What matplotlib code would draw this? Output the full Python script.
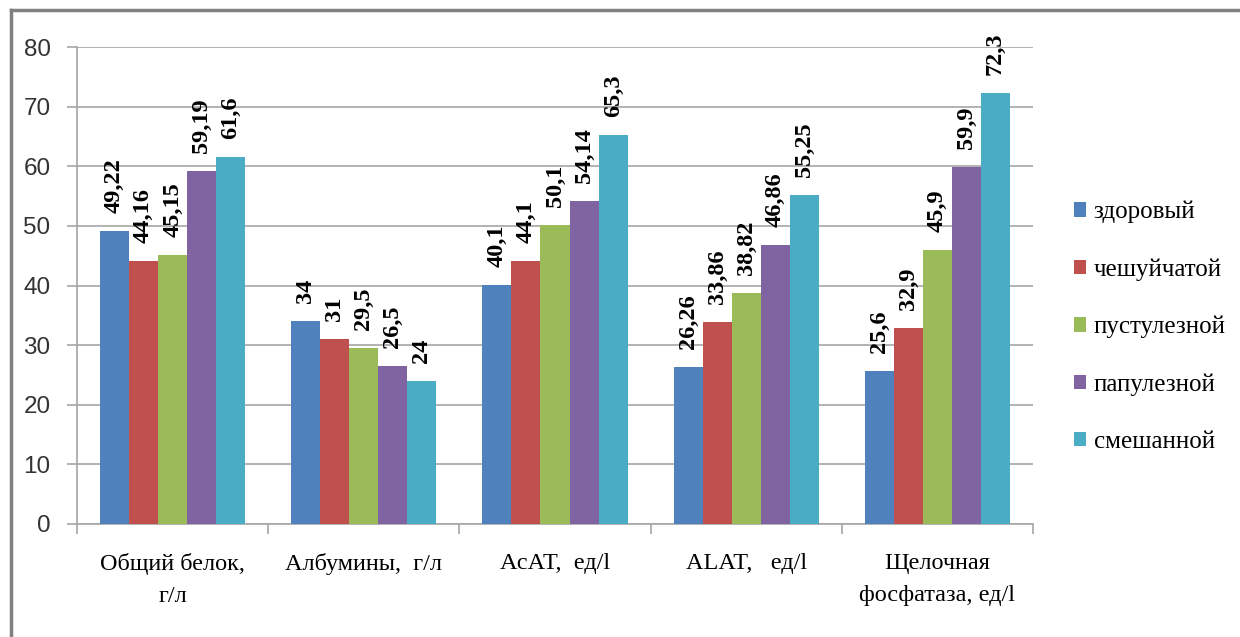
import numpy as np
import matplotlib
matplotlib.use('Agg')
import matplotlib.pyplot as plt
from matplotlib.lines import Line2D

categories = ['Общий белок,\nг/л', 'Албумины,  г/л', 'АсАТ,  ед/l', 'ALAT,   ед/l', 'Щелочная\nфосфатаза, ед/l']
series = ['здоровый', 'чешуйчатой', 'пустулезной', 'папулезной', 'смешанной']
zdorovyi = [49.22, 34, 40.1, 26.26, 25.6]
cheshuichatoi = [44.16, 31, 44.1, 33.86, 32.9]
pustuleznoi = [45.15, 29.5, 50.1, 38.82, 45.9]
papuleznoi = [59.19, 26.5, 54.14, 46.86, 59.9]
smeshannoi = [61.6, 24, 65.3, 55.25, 72.3]
values = [zdorovyi, cheshuichatoi, pustuleznoi, papuleznoi, smeshannoi]
colors = ['#4F81BD', '#C0504D', '#9BBB59', '#8064A2', '#4BACC6']

fig = plt.figure(figsize=(12.4, 6.37), dpi=100)
ax = fig.add_axes([0.0621, 0.1774, 0.771, 0.7486])

x = np.arange(len(categories))
w = 0.152
for i, (name, vals) in enumerate(zip(series, values)):
    pos = x + (i - 2) * w
    ax.bar(pos, vals, w, color=colors[i], label=name, zorder=3)
    for px, v in zip(pos, vals):
        ax.annotate(f'{v:g}'.replace('.', ','), (px, v), xytext=(0, 13),
                    textcoords='offset points', rotation=90, ha='center', va='bottom',
                    fontsize=17.5, fontweight='bold', family='Liberation Serif', zorder=4)

ax.set_xlim(-0.5, len(categories) - 0.5)
ax.set_ylim(0, 80)
ax.set_yticks(np.arange(0, 81, 10))
ax.yaxis.grid(True, color='#A6A6A6', linewidth=1.2, zorder=0)
ax.set_axisbelow(True)

ax.set_xticks(np.arange(-0.5, len(categories), 1.0))
ax.set_xticklabels([])
ax.set_xticks(x, minor=True)
ax.set_xticklabels(categories, minor=True, family='Liberation Serif', fontsize=17.5, linespacing=1.7)
ax.tick_params(axis='x', which='minor', length=0, pad=21)
ax.tick_params(axis='x', which='major', length=7, color='#A6A6A6', width=1.2)
ax.tick_params(axis='y', length=7, color='#A6A6A6', width=1.2, pad=12, labelsize=17.5)
for lab in ax.get_yticklabels():
    lab.set_family('Liberation Sans')
    lab.set_color('#333333')

for s in ['top', 'right']:
    ax.spines[s].set_visible(False)
for s in ['left', 'bottom']:
    ax.spines[s].set_color('#A6A6A6')
    ax.spines[s].set_linewidth(1.2)

ax.legend(loc='center left', bbox_to_anchor=(0.866, 0.487), bbox_transform=fig.transFigure,
          frameon=False, prop={'family': 'Liberation Serif', 'size': 18},
          handlelength=0.5, handleheight=0.5, handletextpad=0.3,
          labelspacing=1.4, borderpad=0, borderaxespad=0)

# outer frame (top and left edges visible)
fig.add_artist(Line2D([11 / 1240, 11 / 1240], [0, 1 - 10 / 637], transform=fig.transFigure,
                      color='#808080', linewidth=2.5))
fig.add_artist(Line2D([11 / 1240, 1], [1 - 10 / 637, 1 - 10 / 637], transform=fig.transFigure,
                      color='#808080', linewidth=2.5))

fig.savefig('out.png', dpi=100)
